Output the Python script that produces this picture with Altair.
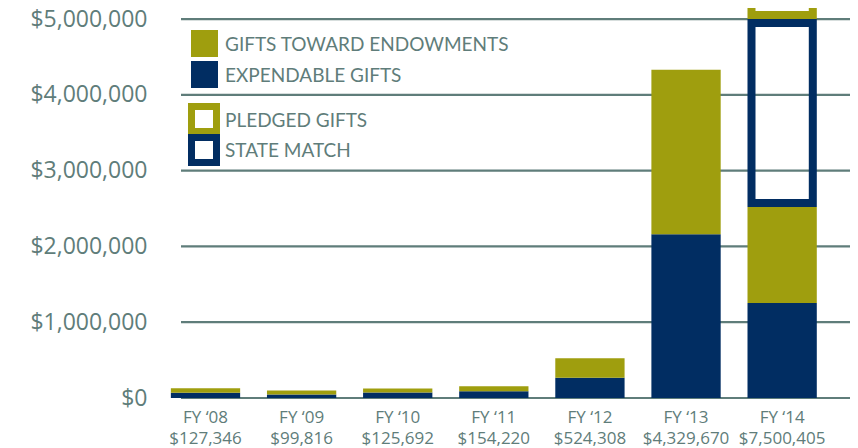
import altair as alt
import pandas as pd

# ---- data ----
years = ["FY ‘08", "FY ‘09", "FY ‘10", "FY ‘11", "FY ‘12", "FY ‘13", "FY ‘14"]
totals = [127346, 99816, 125692, 154220, 524308, 4329670, 7500405]
expendable = [68000, 47000, 72000, 88000, 268000, 2160000, 1253000]
endowments = [59346, 52816, 53692, 66220, 256308, 2169670, 1267000]
state_match = [0, 0, 0, 0, 0, 0, 2480000]
pledged = [0, 0, 0, 0, 0, 0, 2500405]
tick_values = [0, 1000000, 2000000, 3000000, 4000000, 5000000]

OLIVE = "#9f9e0e"
NAVY = "#012d62"
GRAY = "#5f7d7a"
AXFONT = "Open Sans"
LEGFONT = "Lato"

cats = [f"{y}\n${t:,}" for y, t in zip(years, totals)]

solid_rows, outline_rows = [], []
for i, c in enumerate(cats):
    lo = 0
    for name, vals in [("EXPENDABLE GIFTS", expendable), ("GIFTS TOWARD ENDOWMENTS", endowments)]:
        v = vals[i]
        solid_rows.append({"cat": c, "series": name, "lo": lo, "hi": lo + v})
        lo += v
    for name, vals in [("STATE MATCH", state_match), ("PLEDGED GIFTS", pledged)]:
        v = vals[i]
        if v > 0:
            outline_rows.append({"cat": c, "series": name, "lo": lo, "hi": lo + v})
            lo += v

solid_df = pd.DataFrame(solid_rows)
outline_df = pd.DataFrame(outline_rows)
grid_df = pd.DataFrame({"v": tick_values})

W, H = 700, 382
YMAX = 5040000

yscale = alt.Scale(domain=[0, YMAX], nice=False, zero=True)
xscale = alt.Scale(range=[7.45, 680.2], paddingInner=0.279, paddingOuter=0.1395)

grid = alt.Chart(grid_df).mark_rule(color=GRAY, strokeWidth=2.2).encode(
    y=alt.Y("v:Q", scale=yscale,
            axis=alt.Axis(values=tick_values, format="$,.0f", grid=False, domain=False,
                          ticks=False, labelPadding=3, labelFontSize=23, labelColor=GRAY,
                          labelFont=AXFONT, title=None)),
    x=alt.value(31), x2=alt.value(W),
)

xenc = alt.X("cat:N", sort=cats, scale=xscale,
             axis=alt.Axis(title=None, domain=False, ticks=False, grid=False, labelAngle=0,
                           labelExpr="split(datum.value, '\\n')", labelFontSize=17,
                           labelLineHeight=21, labelPadding=11, labelColor=GRAY,
                           labelFont=AXFONT))

solid = alt.Chart(solid_df).mark_bar(clip=True).encode(
    x=xenc,
    y=alt.Y("lo:Q", scale=yscale),
    y2="hi:Q",
    color=alt.Color("series:N", scale=alt.Scale(domain=["EXPENDABLE GIFTS", "GIFTS TOWARD ENDOWMENTS"],
                                                range=[NAVY, OLIVE]), legend=None),
)

outline = alt.Chart(outline_df).mark_bar(
    fill="transparent", strokeWidth=8, size=61.3, yOffset=-4, y2Offset=4
).encode(
    x=alt.X("cat:N", sort=cats, scale=xscale),
    y=alt.Y("lo:Q", scale=yscale),
    y2="hi:Q",
    stroke=alt.Stroke("series:N", scale=alt.Scale(domain=["STATE MATCH", "PLEDGED GIFTS"],
                                                  range=[NAVY, OLIVE]), legend=None),
)


def one(label):
    return pd.DataFrame({"t": [label]})


legend_layers = []
for label, col, y0 in [("GIFTS TOWARD ENDOWMENTS", OLIVE, 14), ("EXPENDABLE GIFTS", NAVY, 45)]:
    legend_layers.append(alt.Chart(one(label)).mark_rect(color=col).encode(
        x=alt.value(41), x2=alt.value(68), y=alt.value(y0), y2=alt.value(y0 + 27)))
for label, col, y0 in [("PLEDGED GIFTS", OLIVE, 90.5), ("STATE MATCH", NAVY, 121.5)]:
    legend_layers.append(alt.Chart(one(label)).mark_rect(fill="white", stroke=col, strokeWidth=7).encode(
        x=alt.value(41.5), x2=alt.value(66.5), y=alt.value(y0), y2=alt.value(y0 + 25)))
for label, yc in [("GIFTS TOWARD ENDOWMENTS", 28.5), ("EXPENDABLE GIFTS", 59.5),
                  ("PLEDGED GIFTS", 104.5), ("STATE MATCH", 134.5)]:
    legend_layers.append(alt.Chart(one(label)).mark_text(
        align="left", baseline="middle", font=LEGFONT, fontSize=19, color=GRAY).encode(
        x=alt.value(75), y=alt.value(yc), text="t:N"))

chart = alt.layer(grid, solid, outline, *legend_layers).properties(
    width=W, height=H,
    autosize=alt.AutoSizeParams(type="none"),
    padding={"left": 142, "top": 8, "right": 0, "bottom": 50},
    background="white",
).configure_view(stroke=None)

chart.save("out.html", embed_options={"renderer": "svg", "actions": False})
